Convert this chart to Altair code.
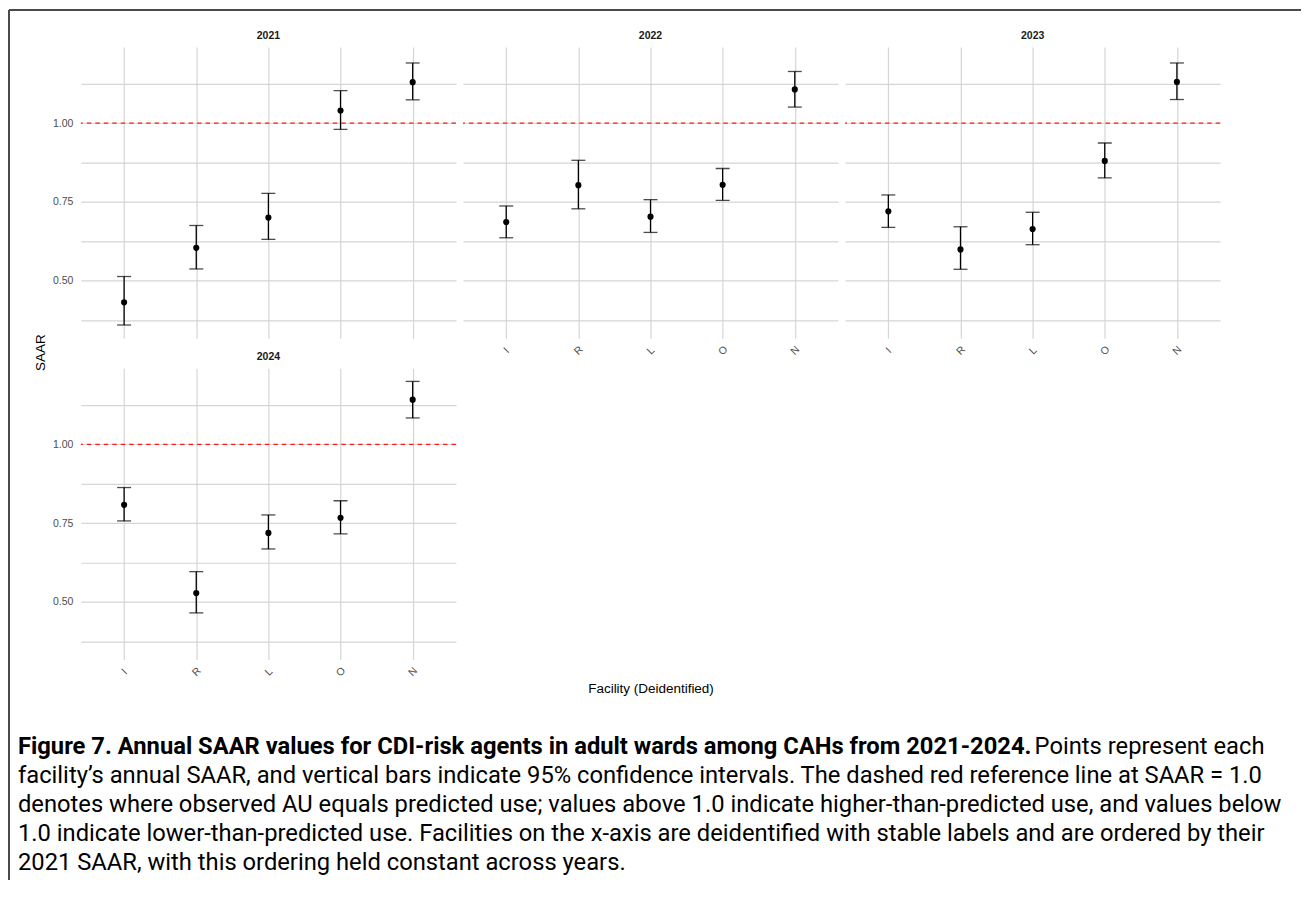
import altair as alt
import pandas as pd

# ---------------- data ----------------
facilities = ["I", "R", "L", "O", "N"]
years = [2021, 2022, 2023, 2024]

saar_2021 = [0.431, 0.604, 0.700, 1.040, 1.130]
lower_2021 = [0.359, 0.537, 0.631, 0.980, 1.074]
upper_2021 = [0.513, 0.675, 0.777, 1.103, 1.191]

saar_2022 = [0.686, 0.803, 0.703, 0.804, 1.107]
lower_2022 = [0.636, 0.728, 0.653, 0.755, 1.051]
upper_2022 = [0.737, 0.882, 0.757, 0.856, 1.164]

saar_2023 = [0.720, 0.599, 0.664, 0.880, 1.131]
lower_2023 = [0.669, 0.536, 0.614, 0.826, 1.075]
upper_2023 = [0.772, 0.671, 0.717, 0.937, 1.191]

saar_2024 = [0.808, 0.528, 0.719, 0.767, 1.142]
lower_2024 = [0.757, 0.465, 0.668, 0.716, 1.084]
upper_2024 = [0.863, 0.596, 0.776, 0.821, 1.200]

y_grid_values = [0.375, 0.5, 0.625, 0.75, 0.875, 1.0, 1.125]
y_domain = [0.317, 1.242]
reference_saar = [1.0]

y_title = "SAAR"
x_title = "Facility (Deidentified)"
caption_bold = ("Figure 7. Annual SAAR values for CDI-risk agents in adult wards "
                "among CAHs from 2021-2024.")
caption_rest = "Points represent each"
caption_lines = [
    "facility\u2019s annual SAAR, and vertical bars indicate 95% confidence intervals. The dashed red reference line at SAAR = 1.0",
    "denotes where observed AU equals predicted use; values above 1.0 indicate higher-than-predicted use, and values below",
    "1.0 indicate lower-than-predicted use. Facilities on the x-axis are deidentified with stable labels and are ordered by their",
    "2021 SAAR, with this ordering held constant across years.",
]

# ---------------- tables ----------------
all_saar = [saar_2021, saar_2022, saar_2023, saar_2024]
all_lower = [lower_2021, lower_2022, lower_2023, lower_2024]
all_upper = [upper_2021, upper_2022, upper_2023, upper_2024]
rows = []
for yr, s_list, lo_list, hi_list in zip(years, all_saar, all_lower, all_upper):
    for f, s, lo, hi in zip(facilities, s_list, lo_list, hi_list):
        rows.append({"year": yr, "facility": f, "saar": s, "lower": lo, "upper": hi})
df = pd.DataFrame(rows)
ref_df = pd.DataFrame({"ref": reference_saar})
one_row = pd.DataFrame({"k": [0]})

# ---------------- styling ----------------
W, H = 376, 292
GRID = "#D5D5D5"
AX_FONT = "Liberation Sans"
CAP_FONT = "Roboto"
CAP_SIZE = 23.8
yscale = alt.Scale(domain=y_domain, nice=False, zero=False)
xscale = alt.Scale(type="point", padding=0.6)


def make_axes(year, show_x, show_y):
    xa = dict(labels=show_x, ticks=False, domain=False, grid=True,
              gridColor=GRID, gridWidth=1.2, labelAngle=315, labelFontSize=10.5,
              labelColor="#4D4D4D", labelFont=AX_FONT, labelPadding=12,
              labelAlign="center", labelBaseline="middle", title=None)
    if year == 2024:
        xa.update(title=x_title, titleFont=AX_FONT, titleFontSize=13.5,
                  titleFontWeight="normal", titleColor="#000000",
                  titleX=571, titleY=29, titleAlign="center",
                  titleBaseline="middle", titleAnchor="start")
    ya = dict(values=y_grid_values, labels=show_y, ticks=False, domain=False,
              grid=True, gridColor=GRID, gridWidth=1.2, labelFontSize=10.5,
              labelColor="#4D4D4D", labelFont=AX_FONT, labelPadding=8,
              labelExpr="(datum.value * 8) % 2 == 0 ? format(datum.value, '.2f') : ''",
              title=None)
    if year == 2021:
        ya.update(title=y_title, titleFont=AX_FONT, titleFontSize=13.5,
                  titleFontWeight="normal", titleColor="#000000",
                  titleX=-40, titleY=306, titleAlign="center",
                  titleBaseline="middle", titleAngle=270)
    return alt.Axis(**xa), alt.Axis(**ya)


def panel(year, show_x, show_y, extra=None):
    xa, ya = make_axes(year, show_x, show_y)
    data = df[df["year"] == year]
    X = alt.X("facility:N", sort=facilities, scale=xscale, axis=xa)

    def Y(field):
        return alt.Y(f"{field}:Q", scale=yscale, axis=ya)

    base = alt.Chart(data)
    ref = alt.Chart(ref_df).mark_rule(color="#FF1A1A", strokeDash=[4.5, 4],
                                      strokeWidth=1.3).encode(y=Y("ref"))
    bars = base.mark_rule(color="black", strokeWidth=1.3).encode(
        x=X, y=Y("lower"), y2="upper:Q")
    cap_lo = base.mark_tick(color="black", size=14, thickness=1.3).encode(
        x=X, y=Y("lower"))
    cap_hi = base.mark_tick(color="black", size=14, thickness=1.3).encode(
        x=X, y=Y("upper"))
    pts = base.mark_circle(size=38, color="black", opacity=1).encode(
        x=X, y=Y("saar"))
    strip = alt.Chart(pd.DataFrame({"t": [str(year)]})).mark_text(
        align="center", baseline="middle", font=AX_FONT, fontSize=10.5,
        fontWeight="bold", color="#1A1A1A"
    ).encode(x=alt.value(W / 2), y=alt.value(-11), text="t:N")
    layers = [ref, bars, cap_lo, cap_hi, pts, strip]
    if extra:
        layers += extra
    return alt.layer(*layers).properties(width=W, height=H)


def text_layer(txt, x, y, bold=False):
    return alt.Chart(one_row).mark_text(
        align="left", baseline="alphabetic", font=CAP_FONT, fontSize=CAP_SIZE,
        fontWeight="bold" if bold else "normal", color="#000000"
    ).encode(x=alt.value(x), y=alt.value(y), text=alt.value(txt))


BORDER = "#4A4A4A"
border_top = alt.Chart(one_row).mark_rule(color=BORDER, strokeWidth=2).encode(
    x=alt.value(-72), x2=alt.value(1223), y=alt.value(-37))
border_left = alt.Chart(one_row).mark_rule(color=BORDER, strokeWidth=2).encode(
    x=alt.value(-72), y=alt.value(-37), y2=alt.value(835))

extras = [border_top, border_left,
          text_layer(caption_bold, -63, 709, bold=True),
          text_layer(caption_rest, 956, 709)]
for i, line in enumerate(caption_lines):
    extras.append(text_layer(line, -63, 738 + 29 * i))

p2021 = panel(2021, False, True, extras)
p2022 = panel(2022, True, False)
p2023 = panel(2023, True, False)
p2024 = panel(2024, True, True)

chart = alt.concat(
    p2021, p2022, p2023, p2024, columns=3,
    spacing={"row": 30, "column": 7}, bounds="flush"
).properties(padding=0).configure_view(stroke=None)

chart.save("out.html", embed_options={"renderer": "svg", "actions": False})
